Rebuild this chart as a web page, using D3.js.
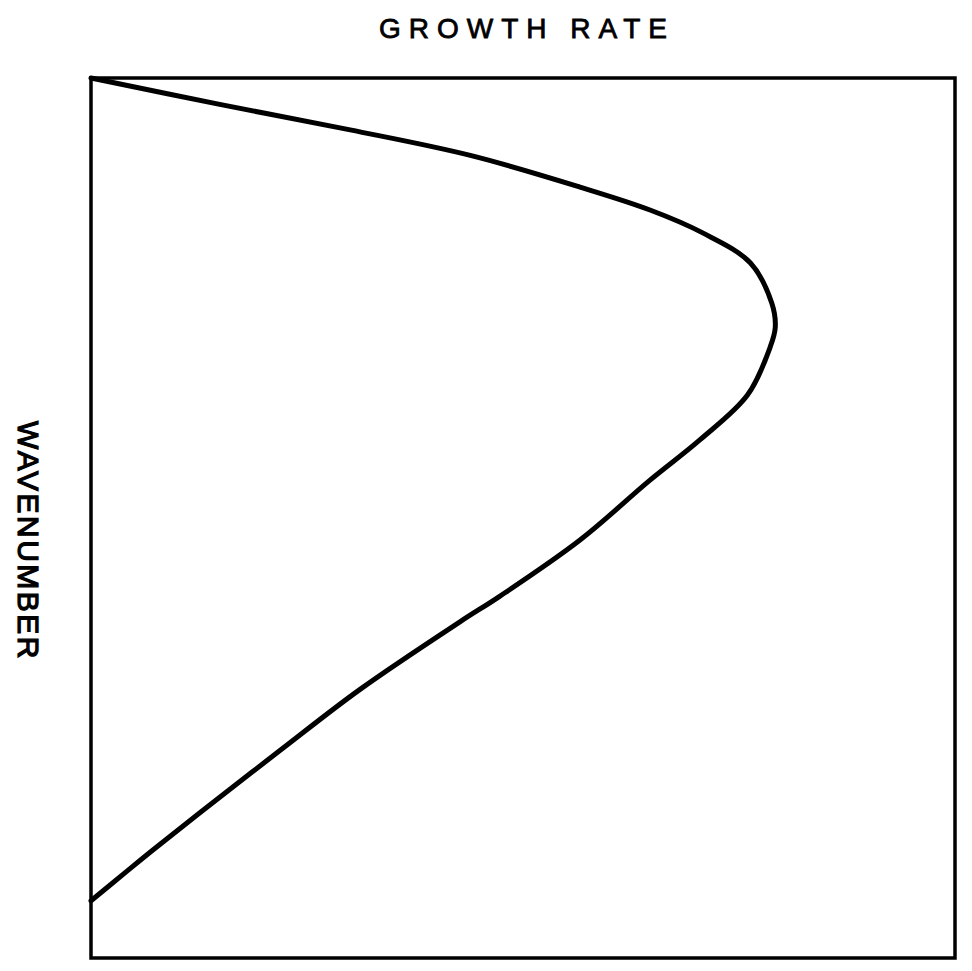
<!DOCTYPE html>
<html>
<head>
<meta charset="utf-8">
<script src="https://cdn.jsdelivr.net/npm/d3@7"></script>
<style>
  body { margin: 0; background: #fff; }
  svg { display: block; }
  text { font-family: "Liberation Sans", Arial, sans-serif; fill: #000; }
</style>
</head>
<body>
<svg id="chart"></svg>
<script>
var growthRate = [0, 0.149, 0.300, 0.439, 0.566, 0.647, 0.708, 0.763, 0.788, 0.792, 0.786, 0.760,
                  0.705, 0.647, 0.566, 0.473, 0.427, 0.311, 0.219, 0.126, 0.072, 0.042, 0];
var waveNumber = [1.0, 0.970, 0.941, 0.912, 0.876, 0.850, 0.824, 0.790, 0.744, 0.717, 0.694, 0.640,
                  0.589, 0.543, 0.475, 0.411, 0.382, 0.305, 0.236, 0.165, 0.123, 0.099, 0.065];
var titleText = "GROWTH RATE";
var yLabelText = "WAVENUMBER";

var width = 972, height = 971;
var box = {left: 91, top: 78, right: 955, bottom: 958};

var svg = d3.select("#chart")
  .attr("width", width)
  .attr("height", height);

var x = d3.scaleLinear().domain([0, 1]).range([box.left, box.right]);
var y = d3.scaleLinear().domain([0, 1]).range([box.bottom, box.top]);

var points = growthRate.map(function(g, i) { return {g: g, k: waveNumber[i]}; });

// frame
svg.append("rect")
  .attr("x", x(0))
  .attr("y", y(1))
  .attr("width", x(1) - x(0))
  .attr("height", y(0) - y(1))
  .attr("fill", "none")
  .attr("stroke", "#000")
  .attr("stroke-width", 3.5);

var line = d3.line()
  .x(function(d) { return x(d.g); })
  .y(function(d) { return y(d.k); })
  .curve(d3.curveCatmullRom.alpha(0.5));

svg.append("path")
  .datum(points)
  .attr("d", line)
  .attr("fill", "none")
  .attr("stroke", "#000")
  .attr("stroke-width", 5)
  .attr("stroke-linejoin", "round")
  .attr("stroke-linecap", "round");

// title, letter-spacing adds a trailing gap so shift by half of it
svg.append("text")
  .attr("x", (box.left + box.right) / 2 + 4)
  .attr("y", 38)
  .attr("text-anchor", "middle")
  .style("font-size", "28px")
  .style("letter-spacing", "8px")
  .style("stroke", "#000")
  .style("stroke-width", 0.8)
  .text(titleText);

svg.append("text")
  .attr("transform", "translate(18,541) rotate(90)")
  .attr("text-anchor", "middle")
  .style("font-size", "30px")
  .style("letter-spacing", "2.5px")
  .style("stroke", "#000")
  .style("stroke-width", 1.2)
  .text(yLabelText);
</script>
</body>
</html>
